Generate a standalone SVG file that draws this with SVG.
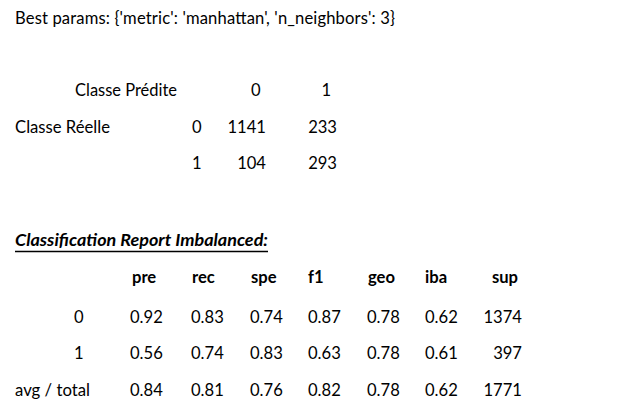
<svg xmlns="http://www.w3.org/2000/svg" width="640" height="419" viewBox="0 0 640 419">
<style>
text{font-family:Lato,"Liberation Sans",sans-serif;font-size:16.6px;fill:#000}
.b{font-weight:bold}
.t{font-weight:bold;font-style:italic;font-size:17.5px}
.e{text-anchor:end}
</style>
<rect width="640" height="419" fill="#fff"/>
<g id="best-params">
<text x="15" y="24" textLength="380" lengthAdjust="spacing">Best params: {'metric': 'manhattan', 'n_neighbors': 3}</text>
</g>
<g id="confusion-matrix">
<text x="75" y="96" textLength="102" lengthAdjust="spacingAndGlyphs">Classe Prédite</text>
<text x="251" y="96">0</text>
<text x="331" y="96" class="e">1</text>
<text x="15" y="132.5" textLength="95" lengthAdjust="spacingAndGlyphs">Classe Réelle</text>
<text x="192" y="132.5">0</text>
<text x="266" y="132.5" class="e">1141</text>
<text x="337" y="132.5" class="e">233</text>
<text x="192" y="169">1</text>
<text x="266" y="169" class="e">104</text>
<text x="337" y="169" class="e">293</text>
</g>
<g id="report">
<text x="15" y="246" class="t" textLength="253" lengthAdjust="spacingAndGlyphs">Classification Report Imbalanced:</text>
<line x1="15" y1="251.5" x2="268" y2="251.5" stroke="#000" stroke-width="1.3"/>
<text x="132" y="282.5" class="b">pre</text>
<text x="192" y="282.5" class="b">rec</text>
<text x="251" y="282.5" class="b">spe</text>
<text x="308" y="282.5" class="b">f1</text>
<text x="368" y="282.5" class="b">geo</text>
<text x="425" y="282.5" class="b">iba</text>
<text x="518" y="282.5" class="b e">sup</text>

<text x="74" y="322.5">0</text>
<text x="130" y="322.5">0.92</text>
<text x="191" y="322.5">0.83</text>
<text x="250" y="322.5">0.74</text>
<text x="308" y="322.5">0.87</text>
<text x="367" y="322.5">0.78</text>
<text x="425" y="322.5">0.62</text>
<text x="522" y="322.5" class="e">1374</text>

<text x="74" y="359">1</text>
<text x="130" y="359">0.56</text>
<text x="191" y="359">0.74</text>
<text x="250" y="359">0.83</text>
<text x="308" y="359">0.63</text>
<text x="367" y="359">0.78</text>
<text x="425" y="359">0.61</text>
<text x="522" y="359" class="e">397</text>

<text x="15" y="396" textLength="75" lengthAdjust="spacingAndGlyphs">avg / total</text>
<text x="130" y="396">0.84</text>
<text x="191" y="396">0.81</text>
<text x="250" y="396">0.76</text>
<text x="308" y="396">0.82</text>
<text x="367" y="396">0.78</text>
<text x="425" y="396">0.62</text>
<text x="522" y="396" class="e">1771</text>
</g>
</svg>
